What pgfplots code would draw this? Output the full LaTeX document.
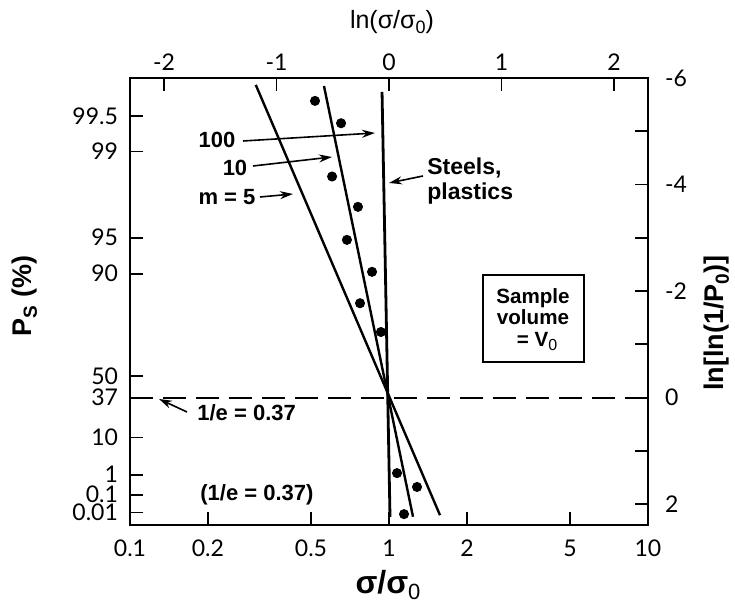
\documentclass[border=0pt]{standalone}
\usepackage{fontspec}
\setmainfont{Lato}
\newfontfamily\hv{Liberation Sans}
\usepackage{pgfplots}
\pgfplotsset{compat=1.18}
\usetikzlibrary{arrows.meta}

\pgfplotsset{
  base/.style={
    width=259pt, height=223.5pt, scale only axis,
    ymin=-6, ymax=2.394, y dir=reverse,
    axis line style={line width=1.4pt},
    every tick/.style={black, line width=0.9pt},
    major tick length=6.5pt, minor tick length=6.5pt, tick align=inside,
    ticklabel style={font=\fontsize{11.5}{13}\selectfont},
  },
}

\begin{document}
\begin{tikzpicture}
\useasboundingbox (-65pt,-41.5pt) rectangle (302.5pt,262.5pt);

% main axis: sigma/sigma0 (log) against ln ln(1/P)
\begin{axis}[base,
  xmode=log, xmin=0.1, xmax=10, xminorticks=false, yminorticks=false,
  xtick={0.1,0.2,0.5,1,2,5,10}, xticklabels={0.1,0.2,0.5,1,2,5,10},
  ytick={-5.28,-4.62,-3.0,-2.32,-0.40,0,0.75,1.45,1.83,2.16},
  yticklabels={99.5,99,95,90,50,37,10,1,0.1,0.01},
  tick pos=left,
  xticklabel style={yshift=-4pt},
  yticklabel style={xshift=-2.5pt, inner ysep=0pt, text height=7.9pt, text depth=0pt}]

  % 1/e line
  \addplot[no marks, black, line width=1pt, dash pattern=on 11.5pt off 5pt]
    coordinates {(0.1,0) (10,0)};

  % m = 5
  \addplot[no marks, black, line width=1.2pt] coordinates {(0.306,-5.87) (1.574,2.21)};
  % m = 10
  \addplot[no marks, black, line width=1.2pt] coordinates {(0.561,-5.85) (1.238,2.24)};
  % m = 100, steels, plastics
  \addplot[no marks, black, line width=1.4pt] coordinates {(0.940,-5.74) (1.009,2.24)};

  % test points
  \addplot[only marks, mark=*, mark size=2.3pt, black] coordinates {
    (0.518,-5.57) (0.653,-5.15) (0.603,-4.15) (0.759,-3.58)
    (0.688,-2.96) (0.860,-2.36) (0.773,-1.77) (0.931,-1.23)
    (1.074,1.42) (1.283,1.68) (1.143,2.19)
  };
\end{axis}

% right axis: ln[ln(1/P0)]
\begin{axis}[base,
  xmin=0, xmax=1, xtick=\empty,
  ytick={-6,-4,-2,0,2}, yticklabels={-6,-4,-2,0,2},
  minor ytick={-5,-3,-1,1},
  ytick pos=right, yticklabel pos=right,
  yticklabel style={xshift=5pt}]
\end{axis}

% top axis: ln(sigma/sigma0)
\begin{axis}[base,
  xmin=-2.302585, xmax=2.302585, ytick=\empty,
  xtick={-2,-1,0,1,2}, xticklabels={-2,-1,0,1,2},
  xtick pos=right, xticklabel pos=right]
\end{axis}

% annotations, in picture pixels
\begin{scope}[shift={(-65pt,262.5pt)}, x=0.5pt, y=-0.5pt,
  font={\hv\bfseries\fontsize{11}{13}\selectfont},
  arr/.style={line width=0.8pt, -{Stealth[length=6.5pt,width=4pt]}}]
  \node at (217,140) {100};
  \draw[arr] (243,141) -- (375,133);
  \node at (235,168) {10};
  \draw[arr] (253,166) -- (332,157);
  \node at (227,197) {m = 5};
  \draw[arr] (260,197) -- (293,194);

  \node[anchor=base west, inner sep=0pt, font={\hv\bfseries\fontsize{11.5}{13}\selectfont}] at (427,175) {Steels,};
  \node[anchor=base west, inner sep=0pt, font={\hv\bfseries\fontsize{11.5}{13}\selectfont}] at (427,200) {plastics};
  \draw[arr] (423,176) -- (389,183);

  \node[anchor=base west, inner sep=0pt] at (197,421) {1/e = 0.37};
  \draw[arr] (187,412) -- (159,399);
  \node[anchor=base west, inner sep=0pt] at (200,501) {(1/e = 0.37)};

  \draw[line width=0.7pt] (483,275) rectangle (584,362);
  \begin{scope}[font={\hv\bfseries\fontsize{10.3}{12}\selectfont}]
    \node[anchor=base, inner sep=0pt] at (533,304) {Sample};
    \node[anchor=base, inner sep=0pt] at (533,325) {volume};
    \node[anchor=base, inner sep=0pt] at (537,347) {= V\raisebox{-0.3ex}{\mdseries\fontsize{8}{9}\selectfont 0}};
  \end{scope}

  \node[rotate=90, font={\hv\bfseries\fontsize{13.5}{15}\selectfont}] at (25,296)
    {P\raisebox{-0.35ex}{\fontsize{9.5}{10}\selectfont S} (\%)};
  \node[rotate=90, font={\hv\bfseries\fontsize{13.5}{15}\selectfont}] at (717,323)
    {ln[ln(1/P\raisebox{-0.35ex}{\fontsize{9.5}{10}\selectfont 0})]};
  \node[font={\hv\bfseries\fontsize{16}{18}\selectfont}] at (388,585)
    {σ/σ\raisebox{-0.4ex}{\mdseries\fontsize{11}{12}\selectfont 0}};
  \node[font={\hv\fontsize{12.5}{14}\selectfont}] at (392,22)
    {ln(σ/σ\raisebox{-0.4ex}{\fontsize{9}{10}\selectfont 0})};
\end{scope}
\end{tikzpicture}
\end{document}
